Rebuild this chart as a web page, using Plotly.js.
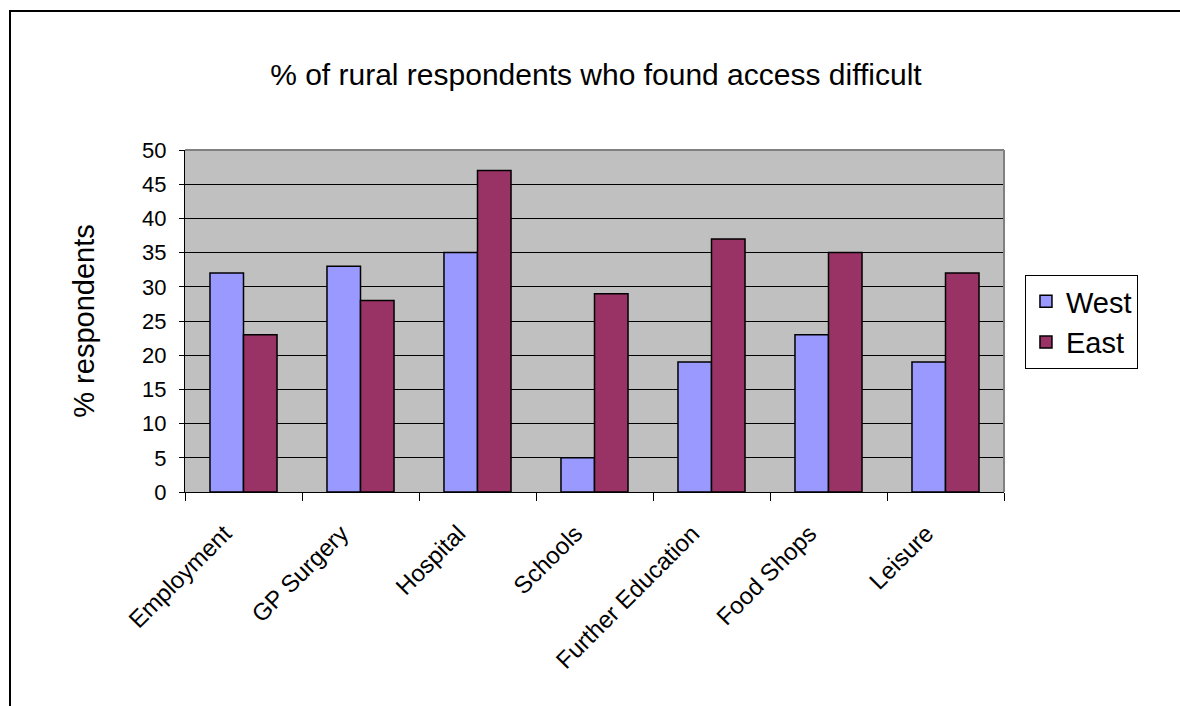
<!DOCTYPE html>
<html>
<head>
<meta charset="utf-8">
<script src="https://cdn.plot.ly/plotly-3.0.1.min.js"></script>
<style>
html,body{margin:0;padding:0;background:#fff;overflow:hidden;}
#frame{position:absolute;left:9px;top:10px;width:1300px;height:900px;border:2px solid #000;box-sizing:border-box;}
#chart{position:absolute;left:0;top:0;width:1180px;height:706px;}
</style>
</head>
<body>
<div id="frame"></div>
<div id="chart"></div>
<script>
const categories = ["Employment","GP Surgery","Hospital","Schools","Further Education","Food Shops","Leisure"];
const westValues = [32,33,35,5,19,23,19];
const eastValues = [23,28,47,29,37,35,32];
const yTicks = [0,5,10,15,20,25,30,35,40,45,50];

const font = "Arial, 'Liberation Sans', sans-serif";

const traces = [
  {type:'bar', name:'West', x:categories, y:westValues,
   marker:{color:'#9999FF', line:{color:'#000', width:1.5}}},
  {type:'bar', name:'East', x:categories, y:eastValues,
   marker:{color:'#993366', line:{color:'#000', width:1.5}}}
];

const layout = {
  width:1180, height:706,
  paper_bgcolor:'rgba(0,0,0,0)',
  plot_bgcolor:'#C0C0C0',
  margin:{l:185, r:176, t:150, b:214},
  font:{family:font, color:'#000'},
  title:{text:'% of rural respondents who found access difficult', font:{size:30, family:font, color:'#000'},
         x:0.505, xref:'container', y:0.895, yref:'container', yanchor:'middle'},
  barmode:'group',
  bargap:0.427,
  bargroupgap:0,
  showlegend:true,
  legend:{x:1.0256, y:0.6345, xanchor:'left', yanchor:'top', bgcolor:'#fff', bordercolor:'#000', borderwidth:1,
          font:{size:29, family:font, color:'#000'}, traceorder:'normal', itemwidth:30},
  xaxis:{type:'category', tickson:'boundaries', ticks:'outside', ticklen:8, tickcolor:'#000', tickwidth:1,
         showline:true, linecolor:'#000', linewidth:1, showgrid:false, tickangle:-45,
         ticklabelstandoff:17, ticklabelshift:-19,
         tickfont:{size:24, family:font, color:'#000'}, fixedrange:true},
  yaxis:{range:[0,50], tickvals:yTicks, ticktext:yTicks.map(String), ticks:'outside', ticklen:5, tickcolor:'#000',
         showline:true, linecolor:'#000', linewidth:1, showgrid:true, gridcolor:'#000', gridwidth:1,
         zeroline:false, tickfont:{size:22, family:font, color:'#000'}, ticklabelstandoff:8,
         title:{text:'% respondents', font:{size:29, family:font, color:'#000'}, standoff:38}},
  shapes:[
    {type:'line', xref:'paper', yref:'paper', x0:0, x1:1, y0:1, y1:1, line:{color:'#808080', width:2}},
    {type:'line', xref:'paper', yref:'paper', x0:1, x1:1, y0:0, y1:1, line:{color:'#808080', width:2}}
  ]
};

Plotly.newPlot('chart', traces, layout, {displayModeBar:false, staticPlot:true});
</script>
</body>
</html>
